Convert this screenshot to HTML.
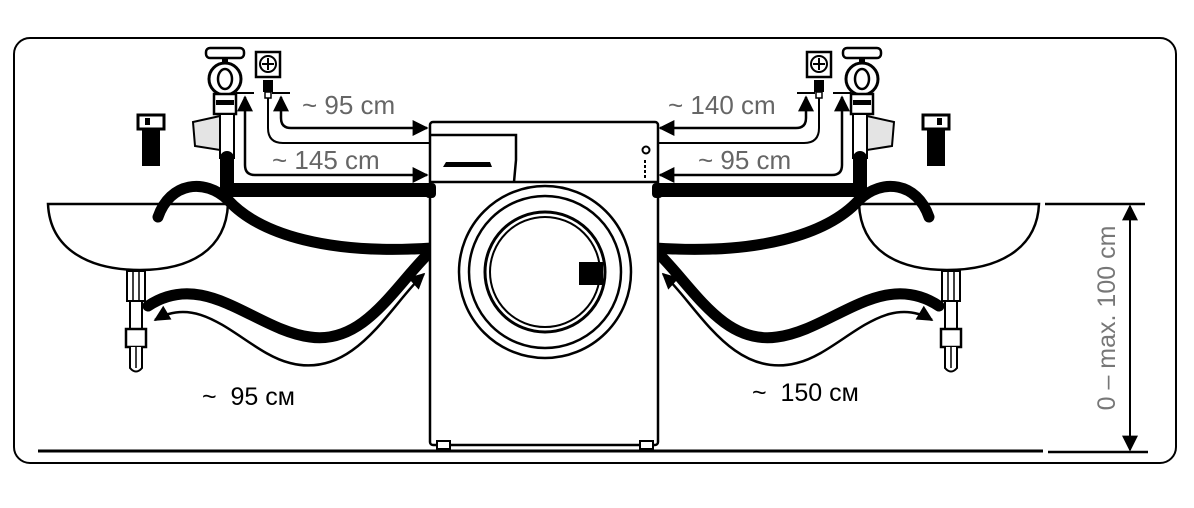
<!DOCTYPE html>
<html><head><meta charset="utf-8"><style>
html,body{margin:0;padding:0;background:#fff;width:1194px;height:508px;overflow:hidden}
text{font-family:"Liberation Sans",Arial,sans-serif}
</style></head><body>
<svg width="1194" height="508" viewBox="0 0 1194 508" xmlns="http://www.w3.org/2000/svg">
<defs>
<marker id="ah2" viewBox="0 0 10 10" refX="9" refY="5" markerWidth="18" markerHeight="16" orient="auto-start-reverse" markerUnits="userSpaceOnUse">
<path d="M0,0 L10,5 L0,10 z" fill="#000"/></marker>
<g id="side">
  <path d="M48,204 L228,204 C226,250 190,270 140,270 C90,270 50,250 48,204 Z" fill="#fff" stroke="#000" stroke-width="2.5"/>
  <rect x="127" y="271" width="18" height="30" fill="#fff" stroke="#000" stroke-width="2"/>
  <line x1="133" y1="271" x2="133" y2="301" stroke="#000" stroke-width="1.5"/>
  <line x1="139" y1="271" x2="139" y2="301" stroke="#000" stroke-width="1.5"/>
  <rect x="130" y="301" width="12" height="28" fill="#fff" stroke="#000" stroke-width="2"/>
  <rect x="126" y="329" width="20" height="18" fill="#fff" stroke="#000" stroke-width="2.5"/>
  <path d="M130,347 L130,368 Q136,375 142,368 L142,347" fill="#fff" stroke="#000" stroke-width="2"/>
  <line x1="136" y1="347" x2="136" y2="368" stroke="#000" stroke-width="1.5"/>
  <rect x="138" y="115" width="26" height="14" fill="#fff" stroke="#000" stroke-width="3"/>
  <rect x="145" y="118" width="5" height="7" fill="#000"/>
  <rect x="142" y="129" width="18" height="37" fill="#000"/>
  <rect x="206" y="48" width="38" height="10" rx="4" fill="#fff" stroke="#000" stroke-width="2.5"/>
  <rect x="222" y="58" width="6" height="8" fill="#000"/>
  <ellipse cx="225" cy="79" rx="16" ry="16" fill="#fff" stroke="#000" stroke-width="3"/>
  <ellipse cx="225" cy="79" rx="7" ry="10" fill="#fff" stroke="#000" stroke-width="2.5"/>
  <rect x="214" y="94" width="22" height="20" fill="#fff" stroke="#000" stroke-width="2.5"/>
  <rect x="216" y="100" width="18" height="5" fill="#000"/>
  <path d="M193,122 L220,116 L220,150 L195,146 Z" fill="#e4e4e4" stroke="#000" stroke-width="2"/>
  <rect x="220" y="114" width="14" height="44" fill="#fff" stroke="#000" stroke-width="2"/>
  <rect x="256" y="52" width="24" height="25" fill="#fff" stroke="#000" stroke-width="2.5"/>
  <circle cx="268" cy="64" r="8" fill="#fff" stroke="#000" stroke-width="2"/>
  <path d="M262,64h12M268,58v12" stroke="#000" stroke-width="2"/>
  <rect x="263" y="80" width="10" height="12" fill="#000"/>
  <rect x="265" y="92" width="6" height="6" fill="#fff" stroke="#000" stroke-width="1.5"/>
  <path d="M227,158 L227,190 L432,190" fill="none" stroke="#000" stroke-width="14" stroke-linecap="round" stroke-linejoin="round"/>
  <path d="M432,248 C330,255 260,235 228,200 C205,178 170,182 158,217" fill="none" stroke="#000" stroke-width="11" stroke-linecap="round"/>
  <path d="M432,250 C395,285 365,345 310,337 C255,330 205,268 148,306" fill="none" stroke="#000" stroke-width="11" stroke-linecap="round"/>
  <path d="M424,274 C390,305 355,380 290,363 C245,352 205,290 155,320" fill="none" stroke="#000" stroke-width="2.5" marker-start="url(#ah2)" marker-end="url(#ah2)"/>
  <path d="M281,97 L281,118 Q281,128 291,128 L427,128" fill="none" stroke="#000" stroke-width="2.5" marker-start="url(#ah2)" marker-end="url(#ah2)"/>
  <path d="M268,98 L268,128 Q268,143 283,143 L430,143" fill="none" stroke="#000" stroke-width="2"/>
  <path d="M245,97 L245,165 Q245,175 255,175 L427,175" fill="none" stroke="#000" stroke-width="2.5" marker-start="url(#ah2)" marker-end="url(#ah2)"/>
  <path d="M236,93h18M272,93h18" stroke="#000" stroke-width="2"/>
</g>
</defs>
<rect x="14" y="38" width="1162" height="425" rx="16" fill="#fff" stroke="#000" stroke-width="2"/>
<line x1="38" y1="451" x2="1043" y2="451" stroke="#000" stroke-width="3"/>
<line x1="1048" y1="452" x2="1148" y2="452" stroke="#000" stroke-width="2.5"/>
<line x1="1045" y1="204" x2="1145" y2="204" stroke="#000" stroke-width="2.5"/>
<line x1="1130" y1="206" x2="1130" y2="450" stroke="#000" stroke-width="2" marker-start="url(#ah2)" marker-end="url(#ah2)"/>
<text transform="translate(1115,318) rotate(-90)" text-anchor="middle" font-size="25" fill="#777">0 – max. 100 cm</text>

<use href="#side"/>
<use href="#side" transform="translate(1087,0) scale(-1,1)"/>

<rect x="430" y="122" width="228" height="323" rx="3" fill="#fff" stroke="#000" stroke-width="2.5"/>
<line x1="430" y1="182" x2="658" y2="182" stroke="#000" stroke-width="2.5"/>
<path d="M430,135 L516,135 L516,160 L514,182" fill="none" stroke="#000" stroke-width="2.5"/>
<path d="M446,162 L490,162 L492,167 L443,167 Z" fill="#000"/>
<circle cx="646" cy="150" r="3.5" fill="#fff" stroke="#000" stroke-width="2"/>
<line x1="645" y1="160" x2="645" y2="180" stroke="#000" stroke-width="2" stroke-dasharray="3,2"/>
<circle cx="545" cy="272" r="86" fill="#fff" stroke="#000" stroke-width="2.5"/>
<circle cx="545" cy="272" r="76" fill="#fff" stroke="#000" stroke-width="2.5"/>
<circle cx="545" cy="272" r="60" fill="#fff" stroke="#000" stroke-width="3"/>
<circle cx="545" cy="272" r="55" fill="#fff" stroke="#000" stroke-width="2"/>
<rect x="579" y="262" width="24" height="23" fill="#000"/>
<rect x="437" y="441" width="13" height="8" fill="#fff" stroke="#000" stroke-width="2"/>
<rect x="640" y="441" width="13" height="8" fill="#fff" stroke="#000" stroke-width="2"/>
<rect x="425" y="183" width="11" height="15" rx="4" fill="#000"/>
<rect x="652" y="183" width="11" height="15" rx="4" fill="#000"/>

<g font-size="26" fill="#666">
<text x="302" y="114">~ 95 cm</text>
<text x="272" y="169">~ 145 cm</text>
<text x="668" y="114">~ 140 cm</text>
<text x="698" y="169">~ 95 cm</text>
</g>
<g font-size="25" fill="#000">
<text x="202" y="405" xml:space="preserve">~  95 см</text>
<text x="752" y="401" xml:space="preserve">~  150 см</text>
</g>
</svg>
</body></html>
